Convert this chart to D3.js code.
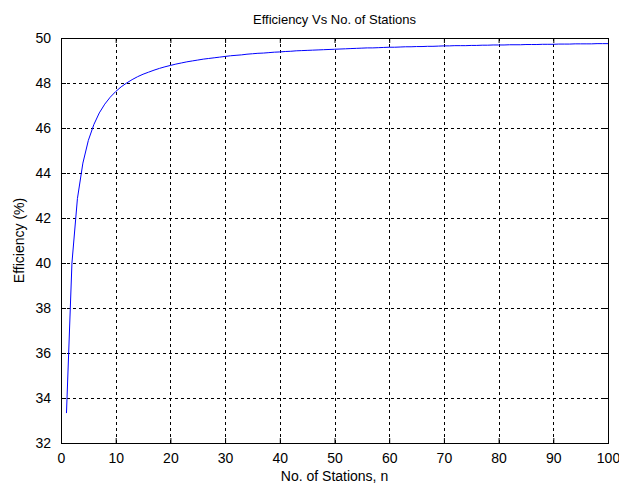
<!DOCTYPE html>
<html>
<head>
<meta charset="utf-8">
<script src="https://cdn.jsdelivr.net/npm/d3@7"></script>
<style>
  body { margin: 0; background: #fff; }
  text { font-family: "Liberation Sans", Arial, sans-serif; fill: #000; }
</style>
</head>
<body>
<div id="chart"></div>
<script>
// stations n = 1..100
var stations = d3.range(1, 101);

// efficiency (%)
var efficiency = [
  33.33, 40.00, 42.86, 44.44, 45.45, 46.15, 46.67, 47.06, 47.37, 47.62,
  47.83, 48.00, 48.15, 48.28, 48.39, 48.48, 48.57, 48.65, 48.72, 48.78,
  48.84, 48.89, 48.94, 48.98, 49.02, 49.06, 49.09, 49.12, 49.15, 49.18,
  49.21, 49.23, 49.25, 49.28, 49.30, 49.32, 49.33, 49.35, 49.37, 49.38,
  49.40, 49.41, 49.43, 49.44, 49.45, 49.46, 49.47, 49.48, 49.49, 49.50,
  49.51, 49.52, 49.53, 49.54, 49.55, 49.56, 49.56, 49.57, 49.58, 49.59,
  49.59, 49.60, 49.61, 49.61, 49.62, 49.62, 49.63, 49.63, 49.64, 49.65,
  49.65, 49.66, 49.66, 49.66, 49.67, 49.67, 49.68, 49.68, 49.69, 49.69,
  49.69, 49.70, 49.70, 49.70, 49.71, 49.71, 49.71, 49.72, 49.72, 49.72,
  49.73, 49.73, 49.73, 49.74, 49.74, 49.74, 49.74, 49.75, 49.75, 49.75
];

var xTicks = [0, 10, 20, 30, 40, 50, 60, 70, 80, 90, 100];
var yTicks = [32, 34, 36, 38, 40, 42, 44, 46, 48, 50];

var title = "Efficiency Vs No. of Stations";
var xLabel = "No. of Stations, n";
var yLabel = "Efficiency (%)";

var W = 619, H = 486;
var margin = {top: 38, right: 11, bottom: 43, left: 61};
var w = W - margin.left - margin.right;
var h = H - margin.top - margin.bottom;

var svg = d3.select("#chart").append("svg")
    .attr("width", W)
    .attr("height", H);

var g = svg.append("g")
    .attr("transform", "translate(" + margin.left + "," + margin.top + ")");

var x = d3.scaleLinear().domain([0, 100]).range([0, w]);
var y = d3.scaleLinear().domain([32, 50]).range([h, 0]);

// dashed grid
g.selectAll(".vgrid")
    .data(xTicks.slice(1, -1))
    .enter().append("line")
    .attr("x1", function(d) { return Math.round(x(d)) + 0.5; })
    .attr("x2", function(d) { return Math.round(x(d)) + 0.5; })
    .attr("y1", 0).attr("y2", h)
    .attr("stroke", "#000").attr("stroke-dasharray", "3,3");

g.selectAll(".hgrid")
    .data(yTicks.slice(1, -1))
    .enter().append("line")
    .attr("y1", function(d) { return Math.round(y(d)) + 0.5; })
    .attr("y2", function(d) { return Math.round(y(d)) + 0.5; })
    .attr("x1", 0).attr("x2", w)
    .attr("stroke", "#000").attr("stroke-dasharray", "3,3");

// axes (ticks inward, MATLAB style)
var xAxis = g.append("g")
    .attr("transform", "translate(0," + h + ")")
    .call(d3.axisBottom(x).tickValues(xTicks).tickSizeInner(-5).tickSizeOuter(0).tickPadding(10));
var xTop = g.append("g")
    .call(d3.axisTop(x).tickValues(xTicks).tickSizeInner(-5).tickSizeOuter(0).tickFormat(""));
var yAxis = g.append("g")
    .call(d3.axisLeft(y).tickValues(yTicks).tickSizeInner(-5).tickSizeOuter(0).tickPadding(10));
var yRight = g.append("g")
    .attr("transform", "translate(" + w + ",0)")
    .call(d3.axisRight(y).tickValues(yTicks).tickSizeInner(-5).tickSizeOuter(0).tickFormat(""));

[xAxis, xTop, yAxis, yRight].forEach(function(a) {
    a.selectAll("path, line").attr("stroke", "#000");
    a.selectAll("text").attr("font-size", 14).attr("font-family", "Liberation Sans, Arial, sans-serif");
});

// line
var line = d3.line()
    .x(function(d, i) { return x(stations[i]); })
    .y(function(d) { return y(d); });

g.append("path")
    .datum(efficiency)
    .attr("fill", "none")
    .attr("stroke", "#0000ff")
    .attr("stroke-width", 1)
    .attr("d", line);

// box
g.append("rect")
    .attr("x", 0.5).attr("y", 0.5)
    .attr("width", w).attr("height", h)
    .attr("fill", "none").attr("stroke", "#000");

// labels
svg.append("text")
    .attr("x", margin.left + w / 2).attr("y", 24)
    .attr("text-anchor", "middle").attr("font-size", 13)
    .text(title);

svg.append("text")
    .attr("x", margin.left + w / 2).attr("y", 481)
    .attr("text-anchor", "middle").attr("font-size", 14)
    .text(xLabel);

svg.append("text")
    .attr("transform", "translate(24," + (margin.top + h / 2) + ") rotate(-90)")
    .attr("text-anchor", "middle").attr("font-size", 14)
    .text(yLabel);
</script>
</body>
</html>
